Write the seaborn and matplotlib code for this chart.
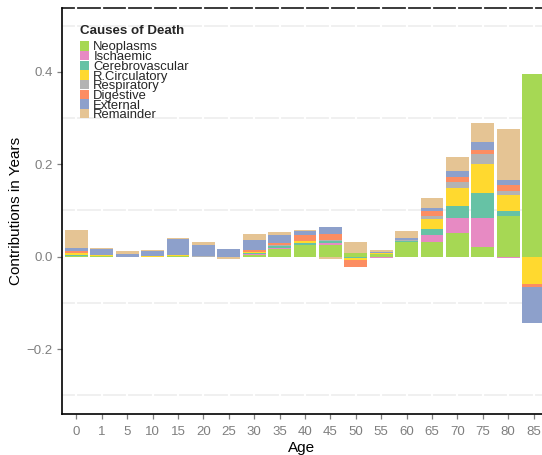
import numpy as np
import pandas as pd
import matplotlib
matplotlib.use("Agg")
import matplotlib.pyplot as plt
import seaborn as sns

# Age groups and causes of death
ages = ["0", "1", "5", "10", "15", "20", "25", "30", "35", "40",
        "45", "50", "55", "60", "65", "70", "75", "80", "85"]
causes = ["Neoplasms", "Ischaemic", "Cerebrovascular", "R.Circulatory",
          "Respiratory", "Digestive", "External", "Remainder"]
colors = ["#A6D854", "#E78AC3", "#66C2A5", "#FFD92F",
          "#B3B3B3", "#FC8D62", "#8DA0CB", "#E5C494"]

# Contributions (years) by cause for each age group
neoplasms = [0.0005, 0.002, 0.0, -0.001, 0.0015, 0.0, 0.0, 0.003, 0.016, 0.026,
             0.026, 0.008, 0.006, 0.032, 0.032, 0.0506, 0.021, 0.0881, 0.3955]
ischaemic = [0.0005, 0.0, 0.0, 0.0, 0.0, 0.0, 0.0, 0.003, 0.003, 0.0,
             0.003, -0.001, -0.002, 0.0, 0.015, 0.0332, 0.0628, -0.002, 0.0]
cerebrovascular = [0.003, 0.0, 0.0, 0.0, -0.0015, 0.0, 0.0, 0.0015, 0.004, 0.003,
                   0.004, -0.002, 0.0, 0.0015, 0.013, 0.026, 0.0541, 0.0108, 0.0]
r_circulatory = [0.003, 0.001, 0.0, 0.002, 0.003, 0.0, 0.0, 0.003, 0.001, 0.004,
                 0.002, -0.005, 0.001, 0.0, 0.0216, 0.039, 0.0627, 0.0346, -0.0584]
respiratory = [0.002, 0.0, 0.0, 0.0, 0.0, 0.001, 0.0, 0.0, 0.001, 0.0,
               0.001, 0.0, 0.0005, 0.002, 0.0066, 0.013, 0.0217, 0.0087, 0.0]
digestive = [0.003, 0.0, -0.0015, 0.0, 0.0, -0.0015, -0.0015, 0.004, 0.005, 0.0137,
             0.013, -0.0135, 0.0, 0.0, 0.011, 0.010, 0.0087, 0.013, -0.0072]
external = [0.007, 0.0128, 0.006, 0.010, 0.034, 0.0243, 0.016, 0.022, 0.017, 0.0086,
            0.015, -0.0008, 0.0025, 0.0045, 0.0064, 0.0137, 0.0173, 0.0108, -0.0773]
remainder = [0.039, 0.002, 0.0063, 0.0022, 0.002, 0.0065, -0.0035, 0.013, 0.006, 0.0022,
             -0.005, 0.024, 0.0045, 0.015, 0.0216, 0.0303, 0.0414, 0.1104, 0.0]

series = [neoplasms, ischaemic, cerebrovascular, r_circulatory,
          respiratory, digestive, external, remainder]

# Long table with stacking bases: positives stack upward, negatives downward
rows = []
pos_base = np.zeros(len(ages))
neg_base = np.zeros(len(ages))
for cause, vals in zip(causes, series):
    for i, (age, v) in enumerate(zip(ages, vals)):
        if v >= 0:
            base = pos_base[i]
            pos_base[i] += v
        else:
            base = neg_base[i]
            neg_base[i] += v
        rows.append({"age": age, "cause": cause, "value": v, "base": base})
df = pd.DataFrame(rows)

sns.set_theme(style="white")
plt.rcParams["font.family"] = ["Liberation Sans", "DejaVu Sans"]

fig = plt.figure(figsize=(5.42, 4.55), dpi=100)
ax = fig.add_axes([62 / 542, 1 - 414 / 455, 1 - 62 / 542, (414 - 8) / 455])

for cause, color in zip(causes, colors):
    sub = df[df["cause"] == cause]
    sns.barplot(data=sub, x="age", y="value", order=ages, color=color,
                saturation=1, errorbar=None, width=0.9, linewidth=0,
                bottom=sub["base"].values, label=cause, zorder=3, ax=ax)

ymin, ymax = -0.3405, 0.5383
ax.set_xlim(-0.57, 18.33)
ax.set_ylim(ymin, ymax)

# Panel grid: light minor horizontals, white verticals at each age
for y in [-0.3, -0.1, 0.1, 0.3, 0.5]:
    ax.axhline(y, color="#efefef", lw=1.3, zorder=0.5)
ax.plot([0, 1], [1, 1], transform=ax.transAxes, color="#3a3a3a", lw=1.4,
        clip_on=False, zorder=1)
ax.vlines(range(len(ages)), ymin, ymax + 0.01, color="white", lw=1.6,
          clip_on=False, zorder=1.5)

for side in ["top", "right"]:
    ax.spines[side].set_visible(False)
for side in ["left", "bottom"]:
    ax.spines[side].set_color("black")
    ax.spines[side].set_linewidth(1.2)

ax.set_yticks([-0.2, 0.0, 0.2, 0.4])
ax.set_yticklabels(["\u22120.2", "0.0", "0.2", "0.4"])
ax.tick_params(axis="both", which="major", length=3.5, width=0.9,
               color="#7f7f7f", labelcolor="#7f7f7f", labelsize=9.5, pad=3,
               left=True, bottom=True)
ax.tick_params(axis="x", pad=5)

ax.set_xlabel("Age", fontsize=11, color="black", labelpad=2)
ax.set_ylabel("Contributions in Years", fontsize=11, color="black", labelpad=3)

leg = ax.legend(title="Causes of Death", loc="upper left",
                bbox_to_anchor=(18 / 480, (414 - 25) / 406),
                frameon=False, fontsize=9.4, title_fontsize=9.6,
                handlelength=0.72, handleheight=0.74, handletextpad=0.3,
                labelspacing=-0.2, borderpad=0, borderaxespad=0,
                alignment="left")
leg.get_title().set_fontweight("bold")
# a little air between the title and the entries
leg._legend_box.sep = 3

fig.savefig("out.png", dpi=100)
